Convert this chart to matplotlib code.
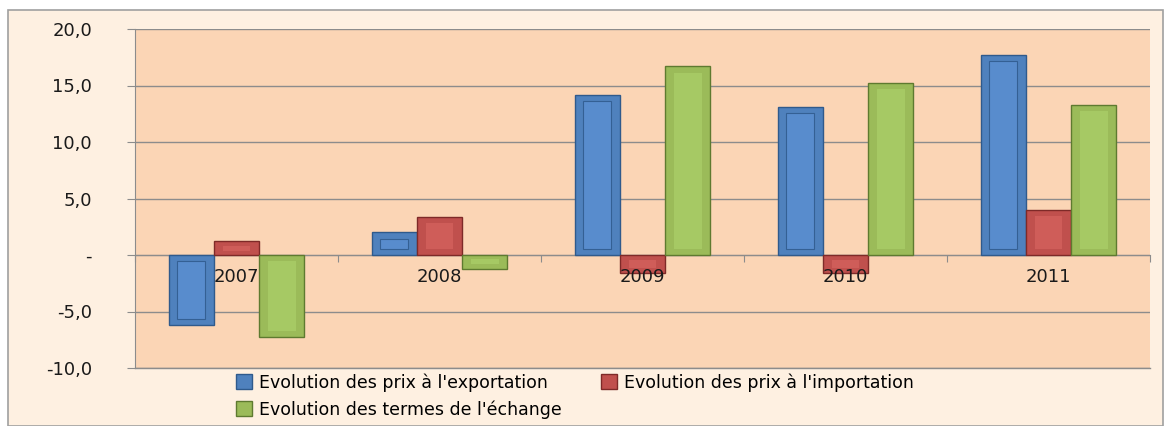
import numpy as np
import matplotlib.pyplot as plt
from matplotlib.patches import Rectangle

years = ['2007', '2008', '2009', '2010', '2011']
export_prices = [-6.2, 2.0, 14.2, 13.1, 17.7]
import_prices = [1.2, 3.4, -1.6, -1.6, 4.0]
terms_of_trade = [-7.3, -1.2, 16.7, 15.2, 13.3]

labels = ["Evolution des prix à l'exportation",
          "Evolution des prix à l'importation",
          "Evolution des termes de l'échange"]
colors = ['#4F81BD', '#C0504D', '#9BBB59']
edges = ['#2F5A8C', '#7E2A28', '#5E7A30']
inner = ['#5A8ED0', '#D2605C', '#A9CC66']

plt.rcParams['font.family'] = ['DejaVu Sans']

fig = plt.figure(figsize=(11.7, 4.26), dpi=100)
fig.patch.set_facecolor('white')

# outer frame of the chart area
fig.patches.append(Rectangle((8 / 1170, 0 / 426), 1155 / 1170, 416 / 426,
                             transform=fig.transFigure, facecolor='#FEF0E1',
                             edgecolor='#A0A0A0', linewidth=1.2, zorder=-5))

ax = fig.add_axes([135 / 1170, 58 / 426, 1015 / 1170, 339 / 426])
ax.set_zorder(2)
ax.set_facecolor('#FBD5B5')

x = np.arange(len(years))
w = 0.222
series = [export_prices, import_prices, terms_of_trade]
for i, vals in enumerate(series):
    pos = x + (i - 1) * w
    ax.bar(pos, vals, width=w, color=colors[i], edgecolor=edges[i],
           linewidth=1.0, zorder=3, label=labels[i])
    vals = np.array(vals)
    inset = np.minimum(0.55, np.abs(vals) * 0.3) * np.sign(vals)
    ax.bar(pos, vals - 2 * inset, bottom=inset, width=w * 0.62,
           color=inner[i], edgecolor=edges[i] if i == 0 else 'none',
           linewidth=0.8, alpha=0.85, zorder=4)

ax.set_ylim(-10, 20)
ax.set_xlim(-0.5, len(years) - 0.5)
ax.set_yticks([-10, -5, 0, 5, 10, 15, 20])
ax.set_yticklabels(['-10,0', '-5,0', '-', '5,0', '10,0', '15,0', '20,0'])
ax.set_axisbelow(True)
ax.yaxis.grid(True, color='#8C8C8C', linewidth=1.0)
ax.axhline(-10, color='#8C8C8C', linewidth=1.0, clip_on=False, zorder=1)
ax.xaxis.set_zorder(5)

for s in ['top', 'right']:
    ax.spines[s].set_visible(False)
ax.spines['left'].set_color('#8C8C8C')
ax.spines['bottom'].set_position(('data', 0))
ax.spines['bottom'].set_color('#8C8C8C')
ax.spines['bottom'].set_zorder(2.5)

ax.set_xticks(np.arange(len(years) + 1) - 0.5)
ax.set_xticklabels([])
ax.set_xticks(x, minor=True)
ax.set_xticklabels(years, minor=True)
ax.tick_params(axis='x', which='major', length=5, color='#8C8C8C', direction='out')
ax.tick_params(axis='x', which='minor', length=0, pad=9, labelsize=13, labelcolor='#1A1A1A')
ax.tick_params(axis='y', length=6, color='#8C8C8C', pad=25, labelsize=13, labelcolor='#1A1A1A')

handles, lbls = ax.get_legend_handles_labels()
order = [0, 2, 1]
leg = fig.legend([handles[k] for k in order], [lbls[k] for k in order],
                 loc='upper left', bbox_to_anchor=(236 / 1170, 53 / 426), ncol=2,
                 frameon=False, fontsize=12.5, handlelength=0.9, handleheight=0.9,
                 handletextpad=0.4, columnspacing=2.3, labelspacing=0.5,
                 borderaxespad=0, borderpad=0)
leg.set_zorder(3)

fig.savefig('out.png', dpi=100, facecolor=fig.get_facecolor())
